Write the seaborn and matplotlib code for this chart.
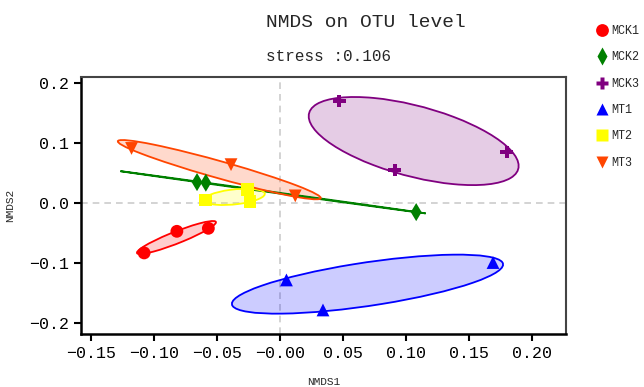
import numpy as np
import pandas as pd
import matplotlib
matplotlib.use("Agg")
import matplotlib.pyplot as plt
import seaborn as sns
from matplotlib.patches import Ellipse

groups = ["MCK1", "MCK2", "MCK3", "MT1", "MT2", "MT3"]
sample_group = ["MCK1"] * 3 + ["MCK2"] * 3 + ["MCK3"] * 3 + ["MT1"] * 3 + ["MT2"] * 3 + ["MT3"] * 3
nmds1 = [-0.108, -0.082, -0.057,
         -0.066, -0.059, 0.108,
         0.047, 0.091, 0.180,
         0.005, 0.034, 0.169,
         -0.059, -0.026, -0.024,
         -0.118, -0.039, 0.012]
nmds2 = [-0.083, -0.047, -0.042,
         0.035, 0.034, -0.015,
         0.170, 0.055, 0.085,
         -0.128, -0.178, -0.099,
         0.005, 0.023, 0.003,
         0.091, 0.064, 0.012]
colors = ["#FF0000", "#008000", "#800080", "#0000FF", "#FFFF00", "#FF4500"]
markers = ["o", "d", "P", "^", "s", "v"]
stress = 0.106

df = pd.DataFrame({"NMDS1": nmds1, "NMDS2": nmds2, "group": sample_group})

sns.set_style("white")
plt.rcParams["font.family"] = ["Liberation Mono", "DejaVu Sans"]

fig = plt.figure(figsize=(6.44, 3.87), dpi=100)
ax = fig.add_axes([0.126, 0.137, 0.753, 0.664])

ax.axhline(0, color="#cccccc", lw=1.2, ls=(0, (4, 3)), zorder=0)
ax.axvline(0, color="#cccccc", lw=1.2, ls=(0, (4, 3)), zorder=0)

# confidence-style ellipses from each group's covariance
k = 1.23
for g, c in zip(groups, colors):
    sub = df[df["group"] == g]
    cov = np.cov(sub["NMDS1"], sub["NMDS2"])
    vals, vecs = np.linalg.eigh(cov)
    vals = np.clip(vals, 1e-8, None)
    angle = np.degrees(np.arctan2(vecs[1, 1], vecs[0, 1]))
    center = (sub["NMDS1"].mean(), sub["NMDS2"].mean())
    w = 2 * k * np.sqrt(vals[1])
    h = 2 * k * np.sqrt(vals[0])
    ax.add_patch(Ellipse(center, width=w, height=h, angle=angle,
                         facecolor=c, alpha=0.2, edgecolor="none", zorder=1))
    ax.add_patch(Ellipse(center, width=w, height=h, angle=angle,
                         facecolor="none", edgecolor=c, lw=1.3, zorder=2))

sns.scatterplot(data=df, x="NMDS1", y="NMDS2", hue="group", style="group",
                hue_order=groups, style_order=groups,
                palette=dict(zip(groups, colors)), markers=dict(zip(groups, markers)),
                s=85, edgecolor="none", ax=ax, zorder=3, legend=True)

ax.set_xlim(-0.158, 0.227)
ax.set_ylim(-0.218, 0.21)
ax.set_xticks([-0.15, -0.10, -0.05, 0.0, 0.05, 0.10, 0.15, 0.20])
ax.set_xticklabels(["\u22120.15", "\u22120.10", "\u22120.05", "\u22120.00",
                    "0.05", "0.10", "0.15", "0.20"])
ax.set_yticks([-0.2, -0.1, 0.0, 0.1, 0.2])
ax.set_yticklabels(["\u22120.2", "\u22120.1", "0.0", "0.1", "0.2"])
ax.tick_params(axis="both", which="major", direction="out", length=5, width=1.5,
               labelsize=12, bottom=True, left=True, colors="black")
for side in ["left", "bottom"]:
    ax.spines[side].set_color("black")
    ax.spines[side].set_linewidth(1.8)
for side in ["top", "right"]:
    ax.spines[side].set_color("#444444")
    ax.spines[side].set_linewidth(1.5)

ax.set_xlabel("NMDS1", fontsize=8, labelpad=12)
ax.set_ylabel("NMDS2", fontsize=8, labelpad=10)

fig.text(0.413, 0.943, "NMDS on OTU level", fontsize=14, va="center", ha="left")
fig.text(0.413, 0.853, "stress :%.3f" % stress, fontsize=11.5, va="center", ha="left")

handles, labels = ax.get_legend_handles_labels()
ax.get_legend().remove()
fig.legend(handles, labels, loc="upper left", bbox_to_anchor=(0.918, 0.948),
           frameon=False, fontsize=8.5, labelspacing=1.22, handletextpad=0.2,
           borderaxespad=0, handlelength=1.1, markerscale=1.0)

fig.savefig("out.png", dpi=100)
